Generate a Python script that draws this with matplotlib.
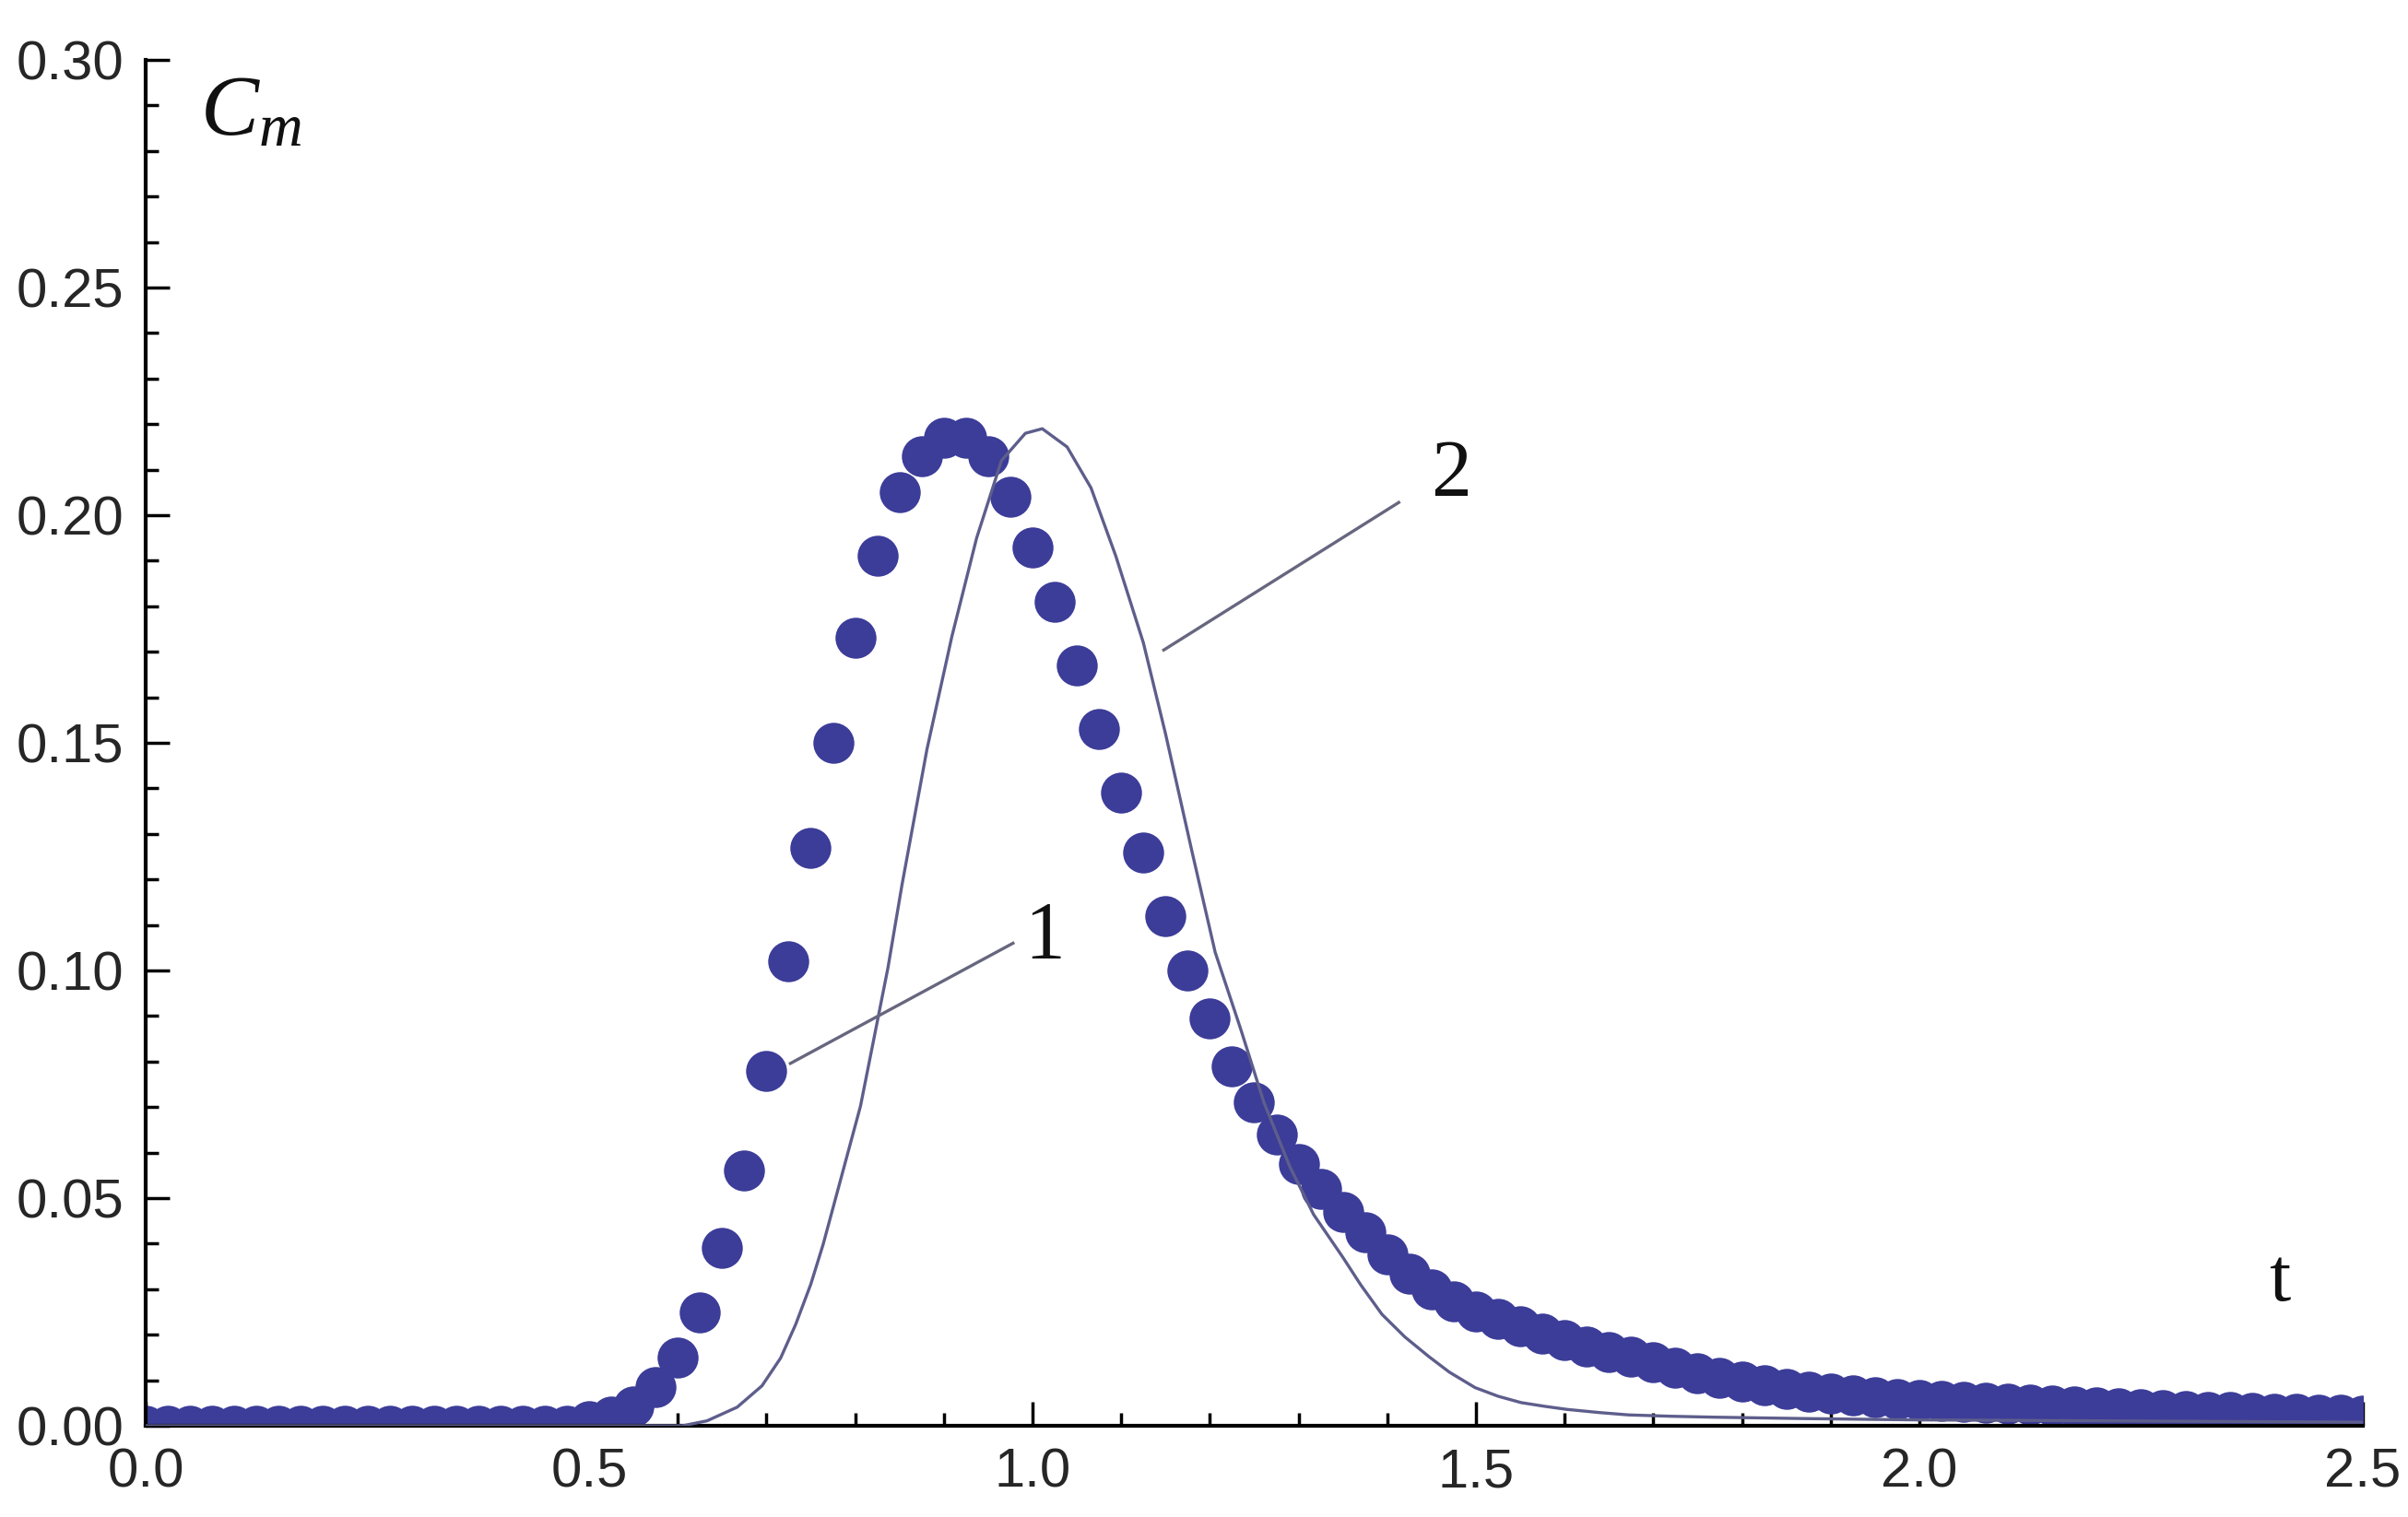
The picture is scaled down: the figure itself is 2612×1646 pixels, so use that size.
import matplotlib
matplotlib.use('Agg')
import matplotlib.pyplot as plt
import numpy as np

# серия 1 (точки), шаг 0.025
t1 = [i * 0.025 for i in range(101)]
c1 = [0.0] * 20 + [
    0.001, 0.002, 0.0043, 0.0085, 0.015, 0.025, 0.039, 0.056, 0.078, 0.102,
    0.127, 0.150, 0.173, 0.191, 0.205, 0.213, 0.217, 0.217, 0.213, 0.204,
    0.193, 0.181, 0.167, 0.153, 0.139, 0.126, 0.112, 0.100, 0.0895, 0.079,
    0.071, 0.064, 0.0575, 0.052, 0.047, 0.0425, 0.0377, 0.0335, 0.030, 0.0273,
    0.0251, 0.0234, 0.0218, 0.0203, 0.0188, 0.0175, 0.0162, 0.0151, 0.0139, 0.0127,
    0.0115, 0.0106, 0.0097, 0.0089, 0.0081, 0.0075, 0.0070, 0.0066, 0.0062, 0.0059,
    0.0056, 0.0054, 0.0052, 0.0050, 0.0049, 0.0047, 0.0045, 0.0043, 0.0041, 0.0039,
    0.0037, 0.0035, 0.0033, 0.0031, 0.0030, 0.0028, 0.0027, 0.0026, 0.0025, 0.0024,
    0.0023]

# серия 2 (сплошная кривая)
t2 = [0.0, 0.58, 0.605, 0.633, 0.667, 0.695, 0.716, 0.733, 0.750, 0.764,
      0.778, 0.792, 0.806, 0.820, 0.837, 0.853, 0.881, 0.909, 0.937, 0.965,
      0.992, 1.011, 1.039, 1.066, 1.094, 1.125, 1.150, 1.180, 1.206, 1.235,
      1.261, 1.290, 1.317, 1.350, 1.370, 1.394, 1.420, 1.447, 1.470, 1.499,
      1.525, 1.551, 1.577, 1.603, 1.640, 1.672, 1.720, 1.768, 1.868, 2.0, 2.5]
c2 = [0.0, 0.0, 0.0, 0.0011, 0.0041, 0.0088, 0.0149, 0.0223, 0.0311, 0.0399,
      0.050, 0.0601, 0.0702, 0.0839, 0.1006, 0.119, 0.1486, 0.1733, 0.195, 0.212,
      0.218, 0.219, 0.215, 0.206, 0.191, 0.172, 0.152, 0.126, 0.104, 0.087,
      0.071, 0.057, 0.0464, 0.037, 0.031, 0.0245, 0.0195, 0.0152, 0.0118, 0.0084,
      0.0065, 0.0051, 0.0043, 0.0036, 0.0029, 0.0024, 0.0021, 0.0019, 0.0016,
      0.0013, 0.0008]

xticks = [0.0, 0.5, 1.0, 1.5, 2.0, 2.5]
yticks = [0.0, 0.05, 0.10, 0.15, 0.20, 0.25, 0.30]

plt.rcParams['mathtext.fontset'] = 'custom'
plt.rcParams['mathtext.it'] = 'Liberation Serif:italic'
plt.rcParams['mathtext.rm'] = 'Liberation Serif'

fig = plt.figure(figsize=(26.12, 16.46), dpi=100)
ax = fig.add_axes([0.0605, 0.0601, 0.9207, 0.9004])

ax.plot(t1, c1, linestyle='none', marker='o', markersize=32,
        markerfacecolor='#3c3c99', markeredgewidth=0, zorder=2)
ax.plot(t2, c2, color='#5e5e8c', linewidth=2.4, zorder=3)

# выноски
ax.plot([0.727, 0.978], [0.0796, 0.106], color='#66667f', linewidth=2.4, zorder=4)
ax.plot([1.148, 1.413], [0.1704, 0.2028], color='#66667f', linewidth=2.4, zorder=4)
ax.text(1.0135, 0.1028, '1', family='Liberation Serif', fontsize=63,
        ha='center', va='baseline', color='#111111')
ax.text(1.472, 0.2043, '2', family='Liberation Serif', fontsize=63,
        ha='center', va='baseline', color='#111111')
ax.text(2.4065, 0.0275, 't', family='Liberation Serif', fontsize=60,
        ha='center', va='baseline', color='#111111')
ax.text(0.0613, 0.2836, r'$C_m$', fontsize=68, ha='left', va='baseline',
        color='#111111')

ax.set_xlim(0, 2.5)
ax.set_ylim(0, 0.30)
ax.set_xticks(xticks)
ax.set_xticklabels(['%.1f' % v for v in xticks])
ax.set_yticks(yticks)
ax.set_yticklabels(['%.2f' % v for v in yticks])
ax.set_xticks(np.arange(0, 2.51, 0.1), minor=True)
ax.set_yticks(np.arange(0, 0.301, 0.01), minor=True)

for s in ['top', 'right']:
    ax.spines[s].set_visible(False)
for s in ['left', 'bottom']:
    ax.spines[s].set_linewidth(3)
ax.tick_params(which='major', direction='in', length=19, width=2.5,
               labelsize=43, labelcolor='#262626', pad=17)
ax.tick_params(which='minor', direction='in', length=10, width=2.5)
for lab in ax.get_xticklabels() + ax.get_yticklabels():
    lab.set_family('Liberation Sans')

fig.savefig('out.png', dpi=100)
